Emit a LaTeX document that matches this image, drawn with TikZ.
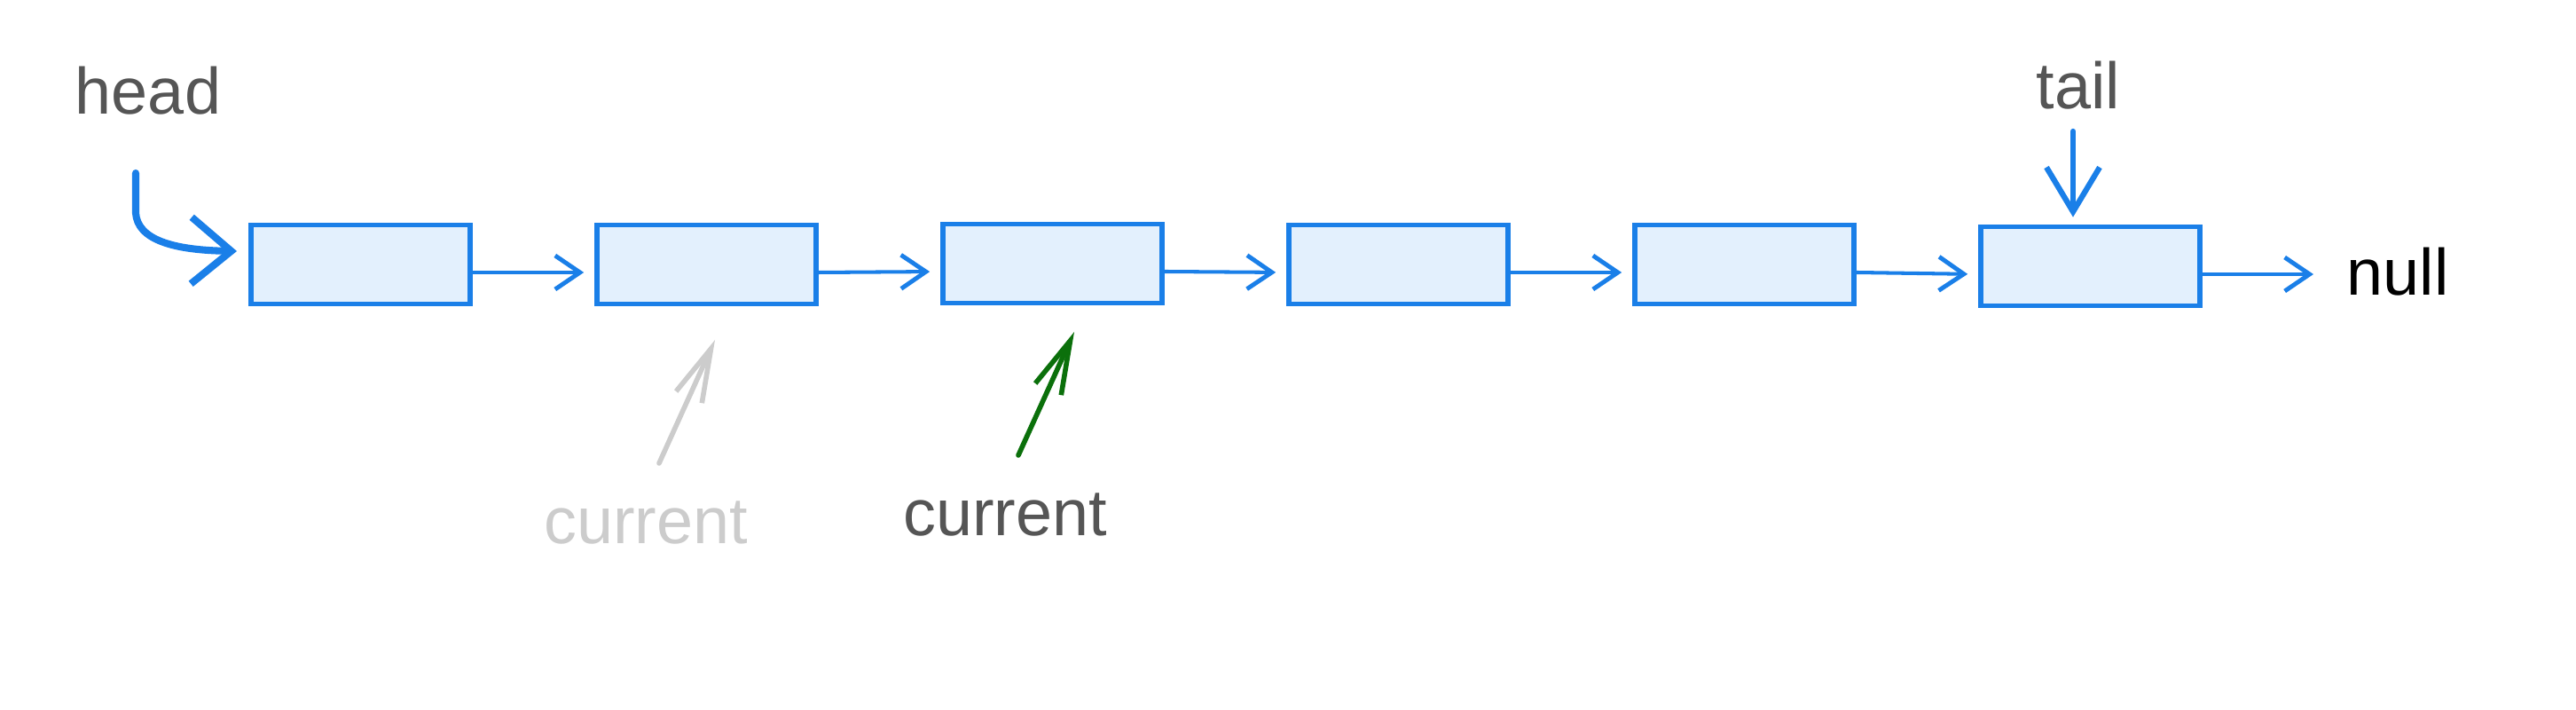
\documentclass[tikz,border=0pt]{standalone}
\usepackage{fontspec}
\setmainfont{Liberation Sans}
\usetikzlibrary{arrows.meta,positioning,calc}
\definecolor{listblue}{HTML}{1A7FE8}
\definecolor{listfill}{HTML}{E3F0FD}
\definecolor{tagdark}{HTML}{555555}
\definecolor{tagfaded}{HTML}{CCCCCC}
\definecolor{curgreen}{HTML}{0B700B}

\begin{document}
\begin{tikzpicture}[
    listnode/.style={draw=listblue,fill=listfill,line width=1.6pt,minimum width=2.47cm,minimum height=0.89cm,inner sep=0pt},
    link/.style={draw=listblue,line width=1.15pt,-{Straight Barb[length=2.8mm,width=3.8mm,line width=1.4pt]},shorten >=1.2mm},
    tag/.style={font=\fontsize{21}{25}\selectfont,text=tagdark,inner sep=0pt},
    pointer/.style={line width=1.6pt,line cap=round,-{Straight Barb[length=6mm,width=3.2mm]}}
  ]
    \useasboundingbox (0,0) rectangle (29.04,8);

    \node[listnode] (n1) at (4.065,5.02) {};
    \node[listnode] (n2) at (7.965,5.02) {};
    \node[listnode] (n3) at (11.865,5.03) {};
    \node[listnode] (n4) at (15.765,5.02) {};
    \node[listnode] (n5) at (19.665,5.02) {};
    \node[listnode] (n6) at (23.565,5.0) {};

    \node[tag] (head) at (1.67,6.98) {head};
    \node[tag] (tail) at (23.43,7.04) {tail};
    \node[tag,text=black,anchor=west] (null) at (26.45,4.94) {null};
    \node[tag,text=tagfaded] (oldcur) at (7.28,2.11) {current};
    \node[tag] (newcur) at (11.33,2.2) {current};

    \coordinate (headfrom) at (1.53,6.05);
    \coordinate (headtip) at (2.67,5.17);
    \coordinate (tailfrom) at (23.37,6.52);
    \coordinate (oldfrom) at (7.43,2.78);
    \coordinate (oldto) at (8.06,4.17);
    \coordinate (newfrom) at (11.48,2.87);
    \coordinate (newto) at (12.11,4.26);

    % next links
    \draw[link] ([yshift=-0.9mm]n1.east) -- ([yshift=-0.9mm]n2.west);
    \draw[link] ([yshift=-0.9mm]n2.east) -- ([yshift=-0.9mm]n3.west);
    \draw[link] ([yshift=-0.9mm]n3.east) -- ([yshift=-0.9mm]n4.west);
    \draw[link] ([yshift=-0.9mm]n4.east) -- ([yshift=-0.9mm]n5.west);
    \draw[link] ([yshift=-0.9mm]n5.east) -- ([yshift=-0.9mm]n6.west);
    \draw[link,shorten >=3.7mm] ([yshift=-0.9mm]n6.east) -- ([yshift=-0.9mm]n6.east -| null.west);

    % pointers
    \draw[pointer,draw=listblue,line width=2.3pt,-{Straight Barb[length=4.5mm,width=7.5mm]}]
      (headfrom) -- (1.53,5.6) .. controls (1.55,5.3) and (1.95,5.18) .. (headtip);
    \draw[pointer,draw=listblue,line width=1.8pt,-{Straight Barb[length=5mm,width=6mm]},shorten >=0.8mm]
      (tailfrom) -- (tailfrom |- n6.north);
    \draw[pointer,draw=tagfaded] (oldfrom) -- (oldto);
    \draw[pointer,draw=curgreen] (newfrom) -- (newto);
\end{tikzpicture}
\end{document}
